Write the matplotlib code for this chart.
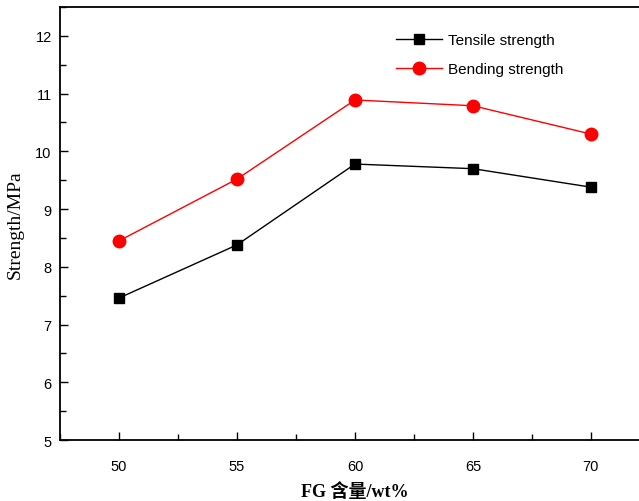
import matplotlib
matplotlib.use('Agg')
import matplotlib.pyplot as plt
from matplotlib.ticker import MultipleLocator

# Data
fg_content = [50, 55, 60, 65, 70]
tensile = [7.46, 8.38, 9.78, 9.70, 9.38]
bending = [8.45, 9.52, 10.89, 10.79, 10.30]

series_labels = ['Tensile strength', 'Bending strength']
x_label = 'FG 含量/wt%'
y_label = 'Strength/MPa'

plt.rcParams['font.family'] = ['Liberation Sans', 'Noto Sans CJK SC']

fig = plt.figure(figsize=(6.39, 5.02), dpi=100)
ax = fig.add_axes([0.094, 0.1215, 0.923, 0.8625])

ax.plot(fg_content, tensile, 's-', color='black', linewidth=1.0,
        markersize=7.5, label=series_labels[0])
ax.plot(fg_content, bending, 'o-', color='red', linewidth=1.0,
        markersize=9, label=series_labels[1])

ax.set_xlim(47.5, 72.5)
ax.set_ylim(5, 12.5)
ax.set_xticks(fg_content)
ax.set_yticks(range(5, 13))
ax.xaxis.set_minor_locator(MultipleLocator(2.5))
ax.yaxis.set_minor_locator(MultipleLocator(0.5))
ax.tick_params(which='both', direction='in', labelsize=10.5, width=1)
ax.tick_params(which='major', length=6)
ax.tick_params(which='minor', length=4)
ax.tick_params(axis='x', which='major', pad=14)
ax.tick_params(axis='y', which='major', pad=6)
for s in ax.spines.values():
    s.set_linewidth(1.3)

ax.set_xlabel(x_label, fontsize=13, fontweight='bold',
              family=['Liberation Serif', 'Noto Sans CJK SC'], labelpad=6)
ax.set_ylabel(y_label, fontsize=14, family=['Liberation Serif', 'Noto Sans CJK SC'],
              labelpad=8)

ax.legend(loc='upper left', bbox_to_anchor=(0.546, 0.972), frameon=False,
          fontsize=11, handlelength=3.0, labelspacing=1.0, handletextpad=0.4)

fig.savefig('out.png', dpi=100)
